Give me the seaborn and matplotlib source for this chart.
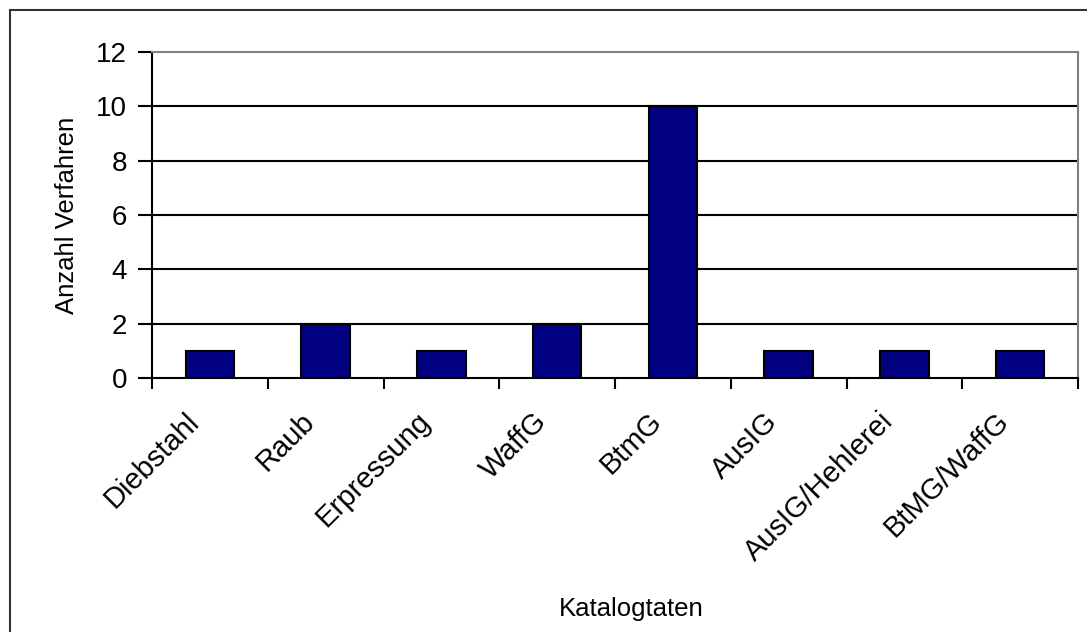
import matplotlib
matplotlib.use("Agg")
import matplotlib.pyplot as plt
import matplotlib.transforms as mtransforms
import seaborn as sns
import pandas as pd
from matplotlib.patches import Rectangle

categories = ["Diebstahl", "Raub", "Erpressung", "WaffG", "BtmG", "AusIG", "AusIG/Hehlerei", "BtMG/WaffG"]
values = [1, 2, 1, 2, 10, 1, 1, 1]
y_ticks = [0, 2, 4, 6, 8, 10, 12]

sns.set_theme(style="white")
plt.rcParams['font.family'] = ['Liberation Sans', 'DejaVu Sans']
plt.rcParams['text.color'] = 'black'
plt.rcParams['axes.labelcolor'] = 'black'
plt.rcParams['xtick.color'] = 'black'
plt.rcParams['ytick.color'] = 'black'

df = pd.DataFrame({"cat": categories, "val": values})

fig = plt.figure(figsize=(10.87, 6.32), dpi=100)
ax = fig.add_axes([152/1087, 1 - 378/632, (1078-152)/1087, (378-52)/632])

sns.barplot(data=df, x="cat", y="val", ax=ax, color="#000080", width=0.42,
            edgecolor="black", linewidth=1.5, saturation=1, zorder=3)

ax.set_ylim(0, 12)
ax.set_xlim(-0.5, len(categories) - 0.5)
ax.set_yticks(y_ticks)
ax.set_yticklabels([str(v) for v in y_ticks], fontsize=20)
for v in y_ticks[1:-1]:
    ax.axhline(v, color="black", lw=1.5, zorder=1)

ax.set_xticks([i + 0.5 for i in range(-1, len(categories))], minor=False)
ax.set_xticklabels([])
ax.set_xticks(range(len(categories)), minor=True)
ax.set_xticklabels(categories, minor=True, rotation=45, ha="right", va="top",
                   rotation_mode="anchor", fontsize=21)
ax.tick_params(axis="x", which="minor", length=0, pad=21)
ax.tick_params(axis="x", which="major", length=8, width=1.5, color="black", direction="out", bottom=True)
ax.tick_params(axis="y", length=10, width=1.5, color="black", direction="out", left=True, pad=8)

offset = mtransforms.ScaledTranslation(-25/100, 0, fig.dpi_scale_trans)
for lbl in ax.get_xticklabels(minor=True):
    lbl.set_transform(lbl.get_transform() + offset)

ax.set_xlabel("Katalogtaten", fontsize=18.5, labelpad=0)
ax.set_ylabel("Anzahl Verfahren", fontsize=18.5, labelpad=12)
ax.xaxis.set_label_coords(0.518, -0.671)

for s in ["left", "bottom"]:
    ax.spines[s].set_color("black")
    ax.spines[s].set_linewidth(1.5)
for s in ["top", "right"]:
    ax.spines[s].set_color("#808080")
    ax.spines[s].set_linewidth(1.5)
ax.spines["bottom"].set_zorder(4)

fig.patches.append(Rectangle((10/1087, -0.1), 1.2, 1 - 10/632 + 0.1, transform=fig.transFigure,
                             fill=False, edgecolor="#333333", linewidth=1.5))

fig.savefig("out.png", dpi=100)
